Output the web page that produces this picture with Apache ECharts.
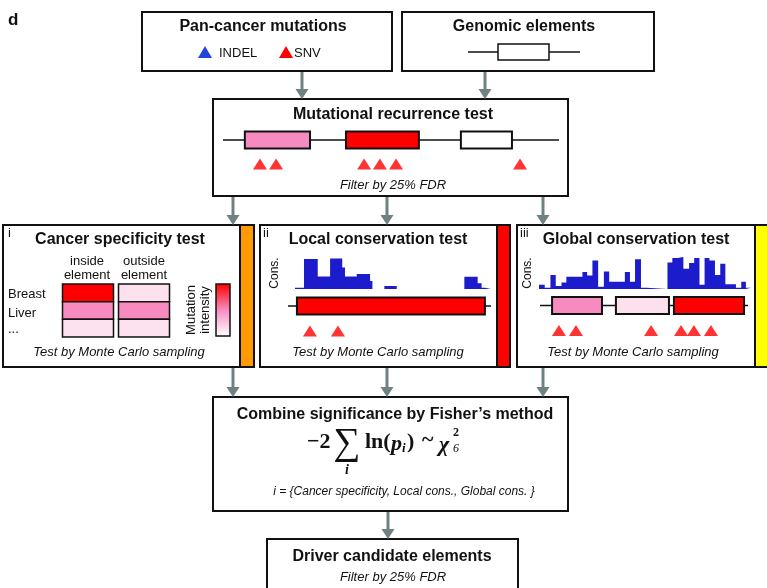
<!DOCTYPE html>
<html><head><meta charset="utf-8">
<script src="https://cdn.jsdelivr.net/npm/echarts@6/dist/echarts.min.js"></script>
<style>html,body{margin:0;padding:0;background:#fff}#c{width:767px;height:588px}</style>
</head><body><div id="c"></div>
<script>
// ---------- data ----------
const trackRows = ['element', 'mutation'];
// genomic elements: [start, end, recurrence level] along a 0-100 window
const recurrenceElements = [[6.5, 25.9, 'mid'], [36.6, 58.3, 'high'], [70.8, 86.0, 'none']];
const recurrenceMutations = [11.0, 15.8, 42.0, 46.7, 51.5, 88.4];

const heatCols = ['inside element', 'outside element'];
const heatRows = ['Breast', 'Liver', '...'];
// [col, row, mutation intensity]
const heatValues = [[0, 0, 1.0], [1, 0, 0.13], [0, 1, 0.5], [1, 1, 0.5], [0, 2, 0.13], [1, 2, 0.13]];

// conservation profile: [position, conservation] (held until next point)
const localCons = [[0, 0.04], [4.6, 0.94], [11.6, 0.39], [17.9, 0.95], [24.1, 0.67], [25.5, 0.39],
  [31.5, 0.47], [38.3, 0.25], [39.5, 0], [45.6, 0.09], [51.9, 0], [86.4, 0.38], [93.2, 0.18],
  [95.2, 0.04], [96.9, 0], [100, 0]];
const localElements = [[4.4, 97.0, 'high']];
const localMutations = [10.8, 24.6];

const globalCons = [[0, 0.13], [2.7, 0.04], [5.4, 0.44], [7.9, 0.09], [10.6, 0.2], [12.9, 0.38],
  [20.5, 0.53], [22.7, 0.42], [25.2, 0.89], [27.9, 0.07], [30.6, 0.55], [33.1, 0.23], [40.5, 0.53],
  [42.9, 0.23], [45.3, 0.93], [48.1, 0.04], [50.8, 0], [60.6, 0.83], [62.9, 0.97], [65.5, 1.0],
  [68.1, 0.63], [70.8, 0.81], [73.2, 0.97], [75.7, 0.13], [78.1, 0.97], [80.4, 0.89], [83.0, 0.44],
  [85.5, 0.79], [87.9, 0.15], [90.2, 0.15], [92.9, 0.04], [95.4, 0.23], [97.6, 0.04], [100, 0.04]];
const globalElements = [[5.8, 29.8, 'mid'], [36.5, 62.0, 'low'], [64.4, 98.1, 'high']];
const globalMutations = [9.1, 17.3, 53.4, 67.8, 74.0, 82.2];

// ---------- styles ----------
const LEVEL_COLOR = { high: '#ff0000', mid: '#f78bbf', low: '#fde0ee', none: '#ffffff' };
const SANS = '"Liberation Sans", Arial, sans-serif';
const SERIF = '"Liberation Serif", "Times New Roman", serif';
const ARROW = '#6f8282';
const INK = '#111';
const BLUE = '#1c1ccc';
const TITLE = 16;

const chart = echarts.init(document.getElementById('c'), null, { renderer: 'canvas' });

function txt(text, x, y, o) {
  o = o || {};
  return {
    type: 'text', x: x, y: y, rotation: o.rot || 0, z: 20,
    style: {
      text: text, x: 0, y: 0, fill: o.fill || INK,
      font: (o.italic ? 'italic ' : '') + (o.bold ? 'bold ' : '') + (o.size || 13) + 'px ' + (o.family || SANS),
      textAlign: o.align || 'center', textVerticalAlign: 'middle', lineHeight: o.lh
    }
  };
}
function box(x, y, w, h, fill) {
  return { type: 'rect', z: 1, shape: { x: x, y: y, width: w, height: h }, style: { fill: fill || '#fff', stroke: INK, lineWidth: 2 } };
}
function arrow(x, y1, y2) {
  return [
    { type: 'line', z: 1, shape: { x1: x, y1: y1, x2: x, y2: y2 - 8 }, style: { stroke: ARROW, lineWidth: 3 } },
    { type: 'polygon', z: 1, shape: { points: [[x - 6.5, y2 - 10], [x + 6.5, y2 - 10], [x, y2]] }, style: { fill: ARROW } }
  ];
}
function tri(cx, cy, fill) {
  return { type: 'polygon', z: 5, shape: { points: [[cx - 7, cy + 6], [cx + 7, cy + 6], [cx, cy - 6]] }, style: { fill: fill } };
}

const graphics = [].concat(
  [
    box(142, 12, 250, 59), box(402, 12, 252, 59), box(213, 99, 355, 97),
    box(3, 225, 251, 142), box(240, 225, 14, 142, '#ff9900'),
    box(260, 225, 250, 142), box(497, 225, 13, 142, '#ff0000'),
    box(517, 225, 260, 142), box(755, 225, 20, 142, '#ffff00'),
    box(213, 397, 355, 114), box(267, 539, 251, 62)
  ],
  arrow(302, 72, 99), arrow(485, 72, 99),
  arrow(233, 197, 225), arrow(387, 197, 225), arrow(543, 197, 225),
  arrow(233, 368, 397), arrow(387, 368, 397), arrow(543, 368, 397),
  arrow(388, 512, 539),
  [
    txt('d', 8, 20, { bold: true, size: 17, align: 'left' }),
    txt('Pan-cancer mutations', 263, 27, { bold: true, size: TITLE }),
    tri(205, 52, '#2244dd'), txt('INDEL', 219, 53, { size: 13, align: 'left' }),
    tri(286, 52, '#ff0000'), txt('SNV', 294, 53, { size: 13, align: 'left' }),
    txt('Genomic elements', 524, 27, { bold: true, size: TITLE }),
    { type: 'line', z: 2, shape: { x1: 468, y1: 52, x2: 580, y2: 52 }, style: { stroke: INK, lineWidth: 1.5 } },
    { type: 'rect', z: 3, shape: { x: 498, y: 44, width: 51, height: 16 }, style: { fill: '#fff', stroke: INK, lineWidth: 1.5 } },
    txt('Mutational recurrence test', 393, 115, { bold: true, size: TITLE }),
    txt('Filter by 25% FDR', 393, 185, { italic: true, size: 13 }),

    txt('i', 8, 233, { size: 13, align: 'left' }),
    txt('Cancer specificity test', 120, 240, { bold: true, size: TITLE }),
    txt('inside\nelement', 87, 268, { size: 13, lh: 14 }),
    txt('outside\nelement', 144, 268, { size: 13, lh: 14 }),
    txt('Breast', 8, 294, { size: 13, align: 'left' }),
    txt('Liver', 8, 313, { size: 13, align: 'left' }),
    txt('...', 8, 329, { size: 13, align: 'left' }),
    txt('Mutation\nintensity', 198, 310, { size: 13, lh: 14, rot: Math.PI / 2 }),
    { type: 'rect', z: 30, shape: { x: 216, y: 284, width: 14, height: 52 }, style: { fill: 'none', stroke: INK, lineWidth: 1.5 } },
    txt('Test by Monte Carlo sampling', 119, 352, { italic: true, size: 13 }),

    txt('ii', 263, 233, { size: 13, align: 'left' }),
    txt('Local conservation test', 378, 240, { bold: true, size: TITLE }),
    txt('Cons.', 275, 273, { size: 12, rot: Math.PI / 2 }),
    txt('Test by Monte Carlo sampling', 378, 352, { italic: true, size: 13 }),

    txt('iii', 520, 233, { size: 13, align: 'left' }),
    txt('Global conservation test', 636, 240, { bold: true, size: TITLE }),
    txt('Cons.', 528, 273, { size: 12, rot: Math.PI / 2 }),
    txt('Test by Monte Carlo sampling', 633, 352, { italic: true, size: 13 }),

    txt('Combine significance by Fisher\u2019s method', 395, 415, { bold: true, size: TITLE }),
    txt('\u22122', 307, 442, { bold: true, size: 22, family: SERIF, align: 'left' }),
    txt('\u2211', 347, 444, { size: 38, family: SERIF }),
    txt('i', 347, 470, { italic: true, bold: true, size: 14, family: SERIF }),
    txt('ln(', 365, 442, { bold: true, size: 22, family: SERIF, align: 'left' }),
    txt('p', 391, 444, { bold: true, italic: true, size: 22, family: SERIF, align: 'left' }),
    txt('i', 402, 449, { bold: true, italic: true, size: 13, family: SERIF, align: 'left' }),
    txt(')', 407, 442, { bold: true, size: 22, family: SERIF, align: 'left' }),
    txt('~', 422, 440, { bold: true, size: 22, family: SERIF, align: 'left' }),
    txt('\u03c7', 439, 445, { bold: true, italic: true, size: 22, family: SERIF, align: 'left' }),
    txt('2', 453, 433, { bold: true, size: 12, family: SERIF, align: 'left' }),
    txt('6', 453, 449, { italic: true, size: 12, family: SERIF, align: 'left' }),
    txt('i = {Cancer specificity, Local cons., Global cons. }', 404, 492, { italic: true, size: 12 }),

    txt('Driver candidate elements', 392, 557, { bold: true, size: TITLE }),
    txt('Filter by 25% FDR', 393, 577, { italic: true, size: 13 })
  ]
);

// ---------- series helpers ----------
function backbone(gridIdx) {
  return {
    type: 'custom', xAxisIndex: gridIdx, yAxisIndex: gridIdx, z: 2, silent: true,
    data: [[0, 100]],
    renderItem: function (p, api) {
      const a = api.coord([api.value(0), 0]), b = api.coord([api.value(1), 0]);
      return { type: 'line', shape: { x1: a[0], y1: a[1], x2: b[0], y2: b[1] }, style: { stroke: INK, lineWidth: 1.5 } };
    }
  };
}
function elementSeries(gridIdx, els) {
  return {
    type: 'custom', xAxisIndex: gridIdx, yAxisIndex: gridIdx, z: 3, silent: true,
    data: els.map(function (e) { return [e[0], e[1]]; }),
    renderItem: function (p, api) {
      const a = api.coord([api.value(0), 0]), b = api.coord([api.value(1), 0]);
      return {
        type: 'rect', shape: { x: a[0], y: a[1] - 8.5, width: b[0] - a[0], height: 17 },
        style: { fill: LEVEL_COLOR[els[p.dataIndex][2]], stroke: INK, lineWidth: 2 }
      };
    }
  };
}
function mutationSeries(gridIdx, muts) {
  return {
    type: 'scatter', xAxisIndex: gridIdx, yAxisIndex: gridIdx, z: 4, silent: true,
    symbol: 'triangle', symbolSize: [14, 11],
    itemStyle: { color: '#ff0000' },
    data: muts.map(function (m) { return [m, 1]; })
  };
}
function consSeries(gridIdx, data) {
  return {
    type: 'line', xAxisIndex: gridIdx, yAxisIndex: gridIdx, step: 'end', symbol: 'none', silent: true,
    lineStyle: { width: 0, color: BLUE }, areaStyle: { color: BLUE, opacity: 1 },
    data: data
  };
}
const trackX = function (g) { return { gridIndex: g, type: 'value', min: 0, max: 100, show: false }; };
const trackY = function (g) { return { gridIndex: g, type: 'category', data: trackRows, inverse: true, show: false }; };
const histX = function (g) {
  return {
    gridIndex: g, type: 'value', min: 0, max: 100,
    axisLine: { show: true, onZero: false, lineStyle: { color: '#7a8c8c', width: 2 } },
    axisTick: { show: false }, axisLabel: { show: false }, splitLine: { show: false }
  };
};
const histY = function (g) { return { gridIndex: g, type: 'value', min: 0, max: 1, show: false }; };

const option = {
  animation: false,
  backgroundColor: '#fff',
  grid: [
    { left: 223, top: 128, width: 336, height: 48 },
    { left: 60, top: 284, width: 112, height: 53 },
    { left: 295, top: 257, width: 196, height: 32 },
    { left: 288, top: 293.5, width: 203, height: 50 },
    { left: 539, top: 257, width: 212, height: 32 },
    { left: 540, top: 293, width: 208, height: 50 }
  ],
  xAxis: [
    trackX(0),
    { gridIndex: 1, type: 'category', data: heatCols, show: false },
    histX(2), trackX(3), histX(4), trackX(5)
  ],
  yAxis: [
    trackY(0),
    { gridIndex: 1, type: 'category', data: heatRows, inverse: true, show: false },
    histY(2), trackY(3), histY(4), trackY(5)
  ],
  visualMap: {
    type: 'continuous', min: 0, max: 1, seriesIndex: 3, dimension: 2,
    inRange: { color: ['#ffffff', '#f78bbf', '#ff0000'] },
    left: 216, top: 284, itemWidth: 14, itemHeight: 52, padding: 0,
    calculable: false, hoverLink: false, text: null, showLabel: false, orient: 'vertical'
  },
  graphic: { elements: graphics },
  series: [
    backbone(0), elementSeries(0, recurrenceElements), mutationSeries(0, recurrenceMutations),
    {
      type: 'custom', xAxisIndex: 1, yAxisIndex: 1, z: 3, silent: true,
      encode: { x: 0, y: 1 },
      data: heatValues,
      renderItem: function (p, api) {
        const c = api.coord([api.value(0), api.value(1)]);
        const s = api.size([1, 1]);
        const gap = 2.5;
        return {
          type: 'rect', shape: { x: c[0] - s[0] / 2 + gap, y: c[1] - s[1] / 2, width: s[0] - 2 * gap, height: s[1] },
          style: { fill: api.visual('color'), stroke: INK, lineWidth: 1.5 }
        };
      }
    },
    consSeries(2, localCons),
    backbone(3), elementSeries(3, localElements), mutationSeries(3, localMutations),
    consSeries(4, globalCons),
    backbone(5), elementSeries(5, globalElements), mutationSeries(5, globalMutations)
  ]
};
chart.setOption(option);
</script>
</body></html>
